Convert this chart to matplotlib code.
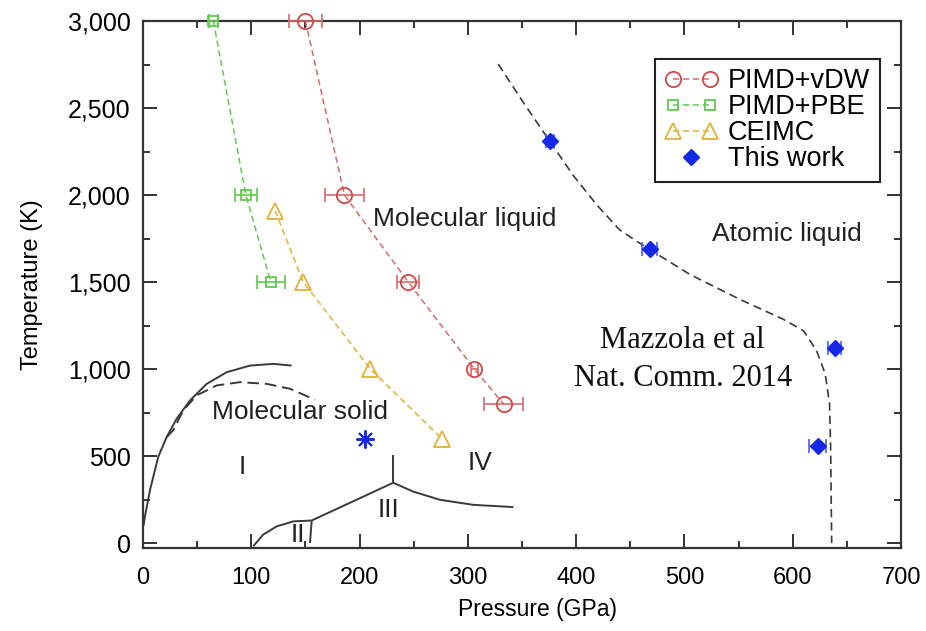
import matplotlib
matplotlib.use("Agg")
import matplotlib.pyplot as plt
from matplotlib import font_manager
from matplotlib.ticker import FuncFormatter, MultipleLocator
from matplotlib.legend_handler import HandlerLine2D

# ---------------- data ----------------
vdw_P = [150, 186, 245, 306, 333]
vdw_T = [3000, 2000, 1500, 1000, 800]
vdw_err = [15, 18, 10, 3, 18]

pbe_P = [65, 95, 118]
pbe_T = [3000, 2000, 1500]
pbe_err = [4, 10, 13]

ceimc_P = [122, 148, 210, 276]
ceimc_T = [1910, 1500, 1000, 600]

this_P = [376, 468, 639, 623]
this_T = [2310, 1690, 1120, 560]
this_err = [4, 7, 6, 8]

star_P = [205]
star_T = [600]

# atomic / molecular liquid boundary (dashed)
bound_P = [328, 351, 376, 397, 419, 440, 456, 468, 505, 551, 591, 610, 622, 630, 634, 635, 636]
bound_T = [2753, 2534, 2306, 2115, 1944, 1801, 1734, 1687, 1544, 1401, 1287, 1220, 1106,
           973, 801, 553, 0]

# melting line of solid I (solid)
melt_P = [0.5, 1.8, 6.5, 14.1, 21.9, 31.1, 43.4, 58.8, 77.3, 98.8, 120.3, 137.3]
melt_T = [100, 153, 306, 496, 610, 715, 820, 915, 982, 1020, 1030, 1020]

# alternative melting line (dashed)
melt2_P = [22, 28, 37.2, 49.6, 68, 89.6, 114.2, 135.7, 158.8]
melt2_T = [610, 649, 763, 849, 906, 925, 915, 887, 824]

# solid phase boundaries
ii_P = [101.8, 111, 123.4, 138.8, 155.8]
ii_T = [-18, 49, 96, 125, 130]
iivert_P = [155.8, 154.2]
iivert_T = [130, 1]
iii_P = [155.8, 231.1]
iii_T = [130, 347]
tvert_P = [231.1, 231.1]
tvert_T = [347, 506]
iv_P = [231.1, 249.6, 274.2, 305, 342]
iv_T = [347, 296, 249, 220, 207]

x_ticks = [0, 100, 200, 300, 400, 500, 600, 700]
y_ticks = [0, 500, 1000, 1500, 2000, 2500, 3000]

# ---------------- style ----------------
avail = {f.name for f in font_manager.fontManager.ttflist}
SANS = "Liberation Sans" if "Liberation Sans" in avail else "DejaVu Sans"
NARROW = "Liberation Sans Narrow" if "Liberation Sans Narrow" in avail else SANS
SERIF = "Liberation Serif" if "Liberation Serif" in avail else "DejaVu Serif"
plt.rcParams["font.family"] = [SANS, "DejaVu Sans"]

RED = "#d24848"
RED_L = "#d86a6a"
GREEN = "#5ccc4c"
YELLOW = "#e2b236"
BLUE = "#1428e6"
BLUE_L = "#4a5cf0"
GREY = "#3a3a3a"

fig = plt.figure(figsize=(9.26, 6.31), dpi=100)
ax = fig.add_axes([143 / 926, 1 - 548 / 631, (901 - 143) / 926, (548 - 21) / 631])

dash = (0, (4, 2.5))

# PIMD+vDW
ax.errorbar(vdw_P, vdw_T, xerr=vdw_err, fmt="none", ecolor=RED_L, elinewidth=1.2,
            capsize=5, capthick=1.2, zorder=3, clip_on=False)
ax.plot(vdw_P, vdw_T, linestyle=dash, color=RED_L, lw=1.1, zorder=2)
ax.plot(vdw_P, vdw_T, linestyle="none", marker="o", ms=11, mfc="none", mec=RED,
        mew=1.3, zorder=4, clip_on=False)
# PIMD+PBE
ax.errorbar(pbe_P, pbe_T, xerr=pbe_err, fmt="none", ecolor=GREEN, elinewidth=1.2,
            capsize=5, capthick=1.2, zorder=3, clip_on=False)
ax.plot(pbe_P, pbe_T, linestyle=dash, color=GREEN, lw=1.1, zorder=2)
ax.plot(pbe_P, pbe_T, linestyle="none", marker="s", ms=7, mfc="none", mec=GREEN,
        mew=1.3, zorder=4, clip_on=False)
# CEIMC
ax.plot(ceimc_P, ceimc_T, linestyle=dash, color=YELLOW, lw=1.1, zorder=2)
ax.plot(ceimc_P, ceimc_T, linestyle="none", marker="^", ms=11, mfc="none", mec=YELLOW,
        mew=1.3, zorder=4)
# This work
ax.errorbar(this_P, this_T, xerr=this_err, fmt="none", ecolor=BLUE_L, elinewidth=1.2,
            capsize=5, capthick=1.2, zorder=3)
ax.plot(this_P, this_T, linestyle="none", marker="D", ms=8, mfc=BLUE, mec=BLUE, zorder=4)
ax.plot(star_P, star_T, linestyle="none", marker=(8, 2, 0), ms=13, mec=BLUE, mew=1.4, zorder=4)

# boundary dashed line
ax.plot(bound_P, bound_T, linestyle=(0, (5, 3)), color=GREY, lw=1.2, zorder=1)

# solid phase lines
for P, T in [(melt_P, melt_T), (ii_P, ii_T), (iivert_P, iivert_T), (iii_P, iii_T),
             (tvert_P, tvert_T), (iv_P, iv_T)]:
    ax.plot(P, T, color=GREY, lw=1.4, zorder=1, solid_capstyle="butt")
ax.plot(melt2_P, melt2_T, color=GREY, lw=1.4, linestyle=(0, (6, 3)), zorder=1)

# legend (proxy handles with dashed connecting lines)
h1, = ax.plot([], [], linestyle=dash, color=RED_L, lw=1.1, marker="o", ms=11,
              mfc="none", mec=RED, mew=1.3)
h2, = ax.plot([], [], linestyle=dash, color=GREEN, lw=1.1, marker="s", ms=7,
              mfc="none", mec=GREEN, mew=1.3)
h3, = ax.plot([], [], linestyle=dash, color=YELLOW, lw=1.1, marker="^", ms=11,
              mfc="none", mec=YELLOW, mew=1.3)
h4, = ax.plot([], [], linestyle="none", marker="D", ms=8, mfc=BLUE, mec=BLUE)
leg = ax.legend([h1, h2, h3, h4], ["PIMD+vDW", "PIMD+PBE", "CEIMC", "This work"],
                handler_map={h4: HandlerLine2D(numpoints=1)},
                loc="upper right", bbox_to_anchor=(0.972, 0.928), borderaxespad=0,
                fontsize=19.5, frameon=True, fancybox=False, framealpha=1,
                edgecolor="#222222", handlelength=2.0, handletextpad=0.35,
                labelspacing=0.0, borderpad=0.35, numpoints=2)
leg.get_frame().set_linewidth(1.5)

# region labels
txt = dict(fontsize=19, color="#222222", ha="center", va="center")
ax.text(297, 1860, "Molecular liquid", **txt)
ax.text(145, 755, "Molecular solid", **txt)
ax.text(595, 1774, "Atomic liquid", **txt)
ax.text(92, 439, "I", **txt)
ax.text(143, 45, "II", **txt)
ax.text(226.5, 191, "III", **txt)
ax.text(311, 458, "IV", **txt)
ax.text(498.5, 1163, "Mazzola et al", fontsize=22, family=SERIF, color="#111111",
        ha="center", va="center")
ax.text(498.5, 946, "Nat. Comm. 2014", fontsize=22, family=SERIF, color="#111111",
        ha="center", va="center")

# axes
ax.set_xlim(0, 700)
ax.set_ylim(-28, 3000)
ax.set_xticks(x_ticks)
ax.set_yticks(y_ticks)
ax.xaxis.set_minor_locator(MultipleLocator(50))
ax.yaxis.set_minor_locator(MultipleLocator(250))
ax.yaxis.set_major_formatter(FuncFormatter(lambda v, p: f"{int(v):,}"))
ax.tick_params(which="both", direction="in", top=True, right=True, width=1.4,
               color="#333333")
ax.tick_params(which="major", length=10)
ax.tick_params(which="minor", length=5)
ax.tick_params(axis="y", labelsize=18, pad=9)
ax.tick_params(axis="x", labelsize=17, pad=14)
for lab in ax.get_xticklabels():
    lab.set_family(NARROW)
for s in ax.spines.values():
    s.set_linewidth(1.6)
    s.set_color("#333333")

ax.set_xlabel("Pressure (GPa)", fontsize=16.5, labelpad=8, family=NARROW)
ax.xaxis.set_label_coords(0.521, -0.095)
ax.set_ylabel("Temperature (K)", fontsize=17, labelpad=18)

fig.savefig("out.png", dpi=100)
